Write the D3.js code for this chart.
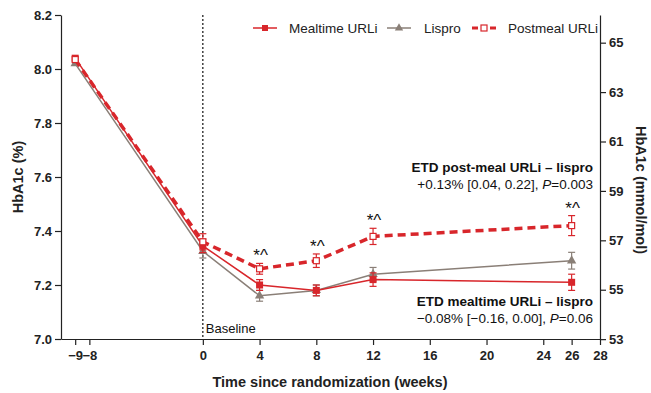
<!DOCTYPE html>
<html><head><meta charset="utf-8">
<script src="https://cdn.jsdelivr.net/npm/d3@7"></script>
<style>body{margin:0;background:#fff}svg{font-family:"Liberation Sans",Arial,sans-serif}</style>
</head><body><svg id="c" width="651" height="393"></svg>
<script>
const weeks = [-9, 0, 4, 8, 12, 26];
const xTicks = [-9, -8, 0, 4, 8, 12, 16, 20, 24, 26, 28];
const yTicks = [7.0, 7.2, 7.4, 7.6, 7.8, 8.0, 8.2];
const yRightTicks = [53, 55, 57, 59, 61, 63, 65];
const mealtime = [8.04, 7.345, 7.20, 7.18, 7.22, 7.21];
const mealtimeErr = [0.005, 0.025, 0.02, 0.02, 0.025, 0.03];
const lispro = [8.02, 7.325, 7.16, 7.18, 7.24, 7.29];
const lisproErr = [0.005, 0.025, 0.02, 0.02, 0.025, 0.031];
const postmeal = [8.035, 7.36, 7.26, 7.29, 7.38, 7.42];
const postmealErr = [0.005, 0.03, 0.02, 0.025, 0.03, 0.037];
const sigWeeks = [4, 8, 12, 26];

const svg = d3.select("#c");
const x = d3.scaleLinear().domain([-10, 28]).range([61, 600]);
const y = d3.scaleLinear().domain([7.0, 8.2]).range([339, 15]);
const toPct = m => m / 10.929 + 2.15;
const red = "#d8262b", gray = "#8a7f77";

// baseline dotted line
svg.append("line").attr("x1", x(0)).attr("x2", x(0)).attr("y1", y(8.2)).attr("y2", y(7.0))
  .attr("stroke", "#111").attr("stroke-width", 1.2).attr("stroke-dasharray", "2,2");
svg.append("text").attr("x", x(0) + 3).attr("y", 333).attr("font-size", 13).attr("fill", "#111").text("Baseline");

// axes
const gx = svg.append("g").attr("transform", "translate(0,339)")
  .call(d3.axisBottom(x).tickValues(xTicks).tickFormat(d => d < 0 ? "\u2212" + Math.abs(d) : d).tickSize(6).tickSizeOuter(0));
const gl = svg.append("g").attr("transform", "translate(61,0)")
  .call(d3.axisLeft(y).tickValues(yTicks).tickFormat(d3.format(".1f")).tickSize(6).tickSizeOuter(0));
const gr = svg.append("g").attr("transform", "translate(600,0)")
  .call(d3.axisRight(y).tickValues(yRightTicks.map(toPct)).tickFormat((d, i) => yRightTicks[i]).tickSize(6).tickSizeOuter(0));
[gx, gl, gr].forEach(g => {
  g.selectAll("path,line").attr("stroke", "#222").attr("stroke-width", 1.2);
  g.selectAll("text").attr("font-size", 13).attr("font-weight", "bold").attr("fill", "#222")
    .attr("font-family", "'Liberation Sans',Arial,sans-serif");
});
gx.selectAll("text").attr("dy", "0.95em");

// titles
svg.append("text").attr("x", 330).attr("y", 387).attr("text-anchor", "middle").attr("font-size", 14.5).attr("font-weight", "bold").attr("fill", "#222").text("Time since randomization (weeks)");
svg.append("text").attr("transform", "translate(23,177) rotate(-90)").attr("text-anchor", "middle").attr("font-size", 14.5).attr("font-weight", "bold").attr("fill", "#222").text("HbA1c (%)");
svg.append("text").attr("transform", "translate(636,190) rotate(90)").attr("text-anchor", "middle").attr("font-size", 14.5).attr("font-weight", "bold").attr("fill", "#222").text("HbA1c (mmol/mol)");

const line = d3.line().x((d, i) => x(weeks[i])).y(d => y(d));
function errbars(vals, errs, color) {
  const g = svg.append("g").attr("stroke", color).attr("stroke-width", 1.2);
  vals.forEach((v, i) => {
    if (errs[i] < 0.01) return;
    const cx = x(weeks[i]);
    g.append("line").attr("x1", cx).attr("x2", cx).attr("y1", y(v - errs[i])).attr("y2", y(v + errs[i]));
    [v - errs[i], v + errs[i]].forEach(e => g.append("line").attr("x1", cx - 3.5).attr("x2", cx + 3.5).attr("y1", y(e)).attr("y2", y(e)));
  });
}
// lispro
errbars(lispro, lisproErr, gray);
svg.append("path").attr("d", line(lispro)).attr("fill", "none").attr("stroke", gray).attr("stroke-width", 1.5);
svg.append("g").selectAll("path").data(lispro).join("path")
  .attr("d", d3.symbol(d3.symbolTriangle, 38)).attr("transform", (d, i) => `translate(${x(weeks[i])},${y(d)})`).attr("fill", gray);
// mealtime
errbars(mealtime, mealtimeErr, red);
svg.append("path").attr("d", line(mealtime)).attr("fill", "none").attr("stroke", red).attr("stroke-width", 1.5);
svg.append("g").selectAll("rect").data(mealtime).join("rect")
  .attr("x", (d, i) => x(weeks[i]) - 3.5).attr("y", d => y(d) - 3.5).attr("width", 7).attr("height", 7).attr("fill", red);
// postmeal
errbars(postmeal, postmealErr, red);
svg.append("path").attr("d", line(postmeal)).attr("fill", "none").attr("stroke", red).attr("stroke-width", 3.5).attr("stroke-dasharray", "8,5");
svg.append("g").selectAll("rect").data(postmeal).join("rect")
  .attr("x", (d, i) => x(weeks[i]) - 3).attr("y", d => y(d) - 3).attr("width", 6).attr("height", 6).attr("fill", "#fff").attr("stroke", red).attr("stroke-width", 1.2);
// significance
sigWeeks.forEach(w => {
  const i = weeks.indexOf(w);
  svg.append("text").attr("x", x(w) + 1).attr("y", y(postmeal[i] + postmealErr[i]) - 2).attr("text-anchor", "middle")
    .attr("font-size", 17).attr("fill", "#111").text("*^");
});

// legend
const leg = [
  {label: "Mealtime URLi", lx: 253, tx: 289, kind: "m"},
  {label: "Lispro", lx: 387, tx: 424, kind: "l"},
  {label: "Postmeal URLi", lx: 472, tx: 508, kind: "p"}];
leg.forEach(L => {
  const ly = 28;
  if (L.kind === "m") {
    svg.append("line").attr("x1", L.lx).attr("x2", L.lx + 24).attr("y1", ly).attr("y2", ly).attr("stroke", red).attr("stroke-width", 1.5);
    svg.append("rect").attr("x", L.lx + 12 - 3).attr("y", ly - 3).attr("width", 6).attr("height", 6).attr("fill", red);
  } else if (L.kind === "l") {
    svg.append("line").attr("x1", L.lx).attr("x2", L.lx + 24).attr("y1", ly).attr("y2", ly).attr("stroke", gray).attr("stroke-width", 1.5);
    svg.append("path").attr("d", d3.symbol(d3.symbolTriangle, 30)).attr("transform", `translate(${L.lx + 12},${ly})`).attr("fill", gray);
  } else {
    svg.append("line").attr("x1", L.lx).attr("x2", L.lx + 24).attr("y1", ly).attr("y2", ly).attr("stroke", red).attr("stroke-width", 3).attr("stroke-dasharray", "6,3");
    svg.append("rect").attr("x", L.lx + 12 - 3).attr("y", ly - 3).attr("width", 6).attr("height", 6).attr("fill", "#fff").attr("stroke", red).attr("stroke-width", 1.2);
  }
  svg.append("text").attr("x", L.tx).attr("y", ly + 4.5).attr("font-size", 13.5).attr("fill", "#222").text(L.label);
});

// ETD annotations
function etd(yy, title, parts) {
  svg.append("text").attr("x", 593).attr("y", yy).attr("text-anchor", "end").attr("font-size", 13.5).attr("font-weight", "bold").attr("fill", "#111").text(title);
  const t = svg.append("text").attr("x", 593).attr("y", yy + 17).attr("text-anchor", "end").attr("font-size", 13.5).attr("fill", "#111");
  t.append("tspan").text(parts[0]);
  t.append("tspan").attr("font-style", "italic").text("P");
  t.append("tspan").text(parts[1]);
}
etd(172, "ETD post-meal URLi \u2013 lispro", ["+0.13% [0.04, 0.22], ", "=0.003"]);
etd(306, "ETD mealtime URLi \u2013 lispro", ["\u22120.08% [\u22120.16, 0.00], ", "=0.06"]);
</script></body></html>
